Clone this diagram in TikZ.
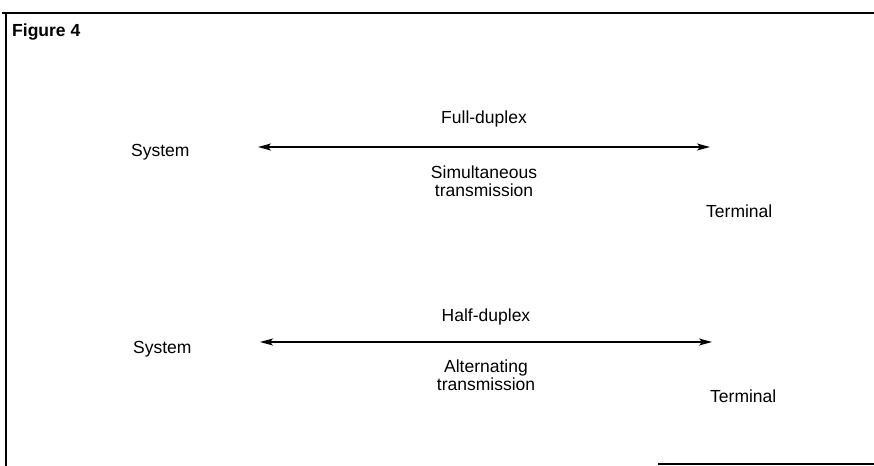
\documentclass[tikz,border=0pt]{standalone}
\usepackage{fontspec}
\setmainfont{Liberation Sans}
\usetikzlibrary{arrows.meta,positioning}

\begin{document}
\begin{tikzpicture}[x=1bp,y=-1bp,>={Stealth[length=13bp,width=7bp,inset=3bp]},
    font=\fontsize{17.5bp}{18bp}\selectfont,
    every node/.style={inner sep=0pt},
    link/.style={<->,line width=1.3bp},
    frame/.style={line width=1.5bp}]
    \useasboundingbox (0,0) rectangle (874,466);

    % frame
    \draw[frame] (2,13) -- (874,13);
    \draw[frame] (6,13) -- (6,466);
    \draw[frame] (658,464) -- (874,464);

    \node[anchor=base west,font=\fontsize{17.5bp}{18bp}\selectfont\bfseries] (fig) at (12,37) {Figure 4};

    % full-duplex
    \node[anchor=base west] (sys1) at (131,157) {System};
    \node[anchor=base west] (term1) at (706,218) {Terminal};
    \coordinate (fdL) at (258,147);
    \coordinate (fdR) at (710,147);

    % half-duplex
    \node[anchor=base west] (sys2) at (133,354) {System};
    \node[anchor=base west] (term2) at (710,402) {Terminal};
    \coordinate (hdL) at (260,342);
    \coordinate (hdR) at (712,342);

    \path[link]
    (fdL) edge node[above=19bp] {Full-duplex}
               node[below=18bp,align=center] {Simultaneous\\transmission} (fdR)
    (hdL) edge node[above=16bp] {Half-duplex}
               node[below=17bp,align=center] {Alternating\\transmission} (hdR)
    ;
\end{tikzpicture}
\end{document}
